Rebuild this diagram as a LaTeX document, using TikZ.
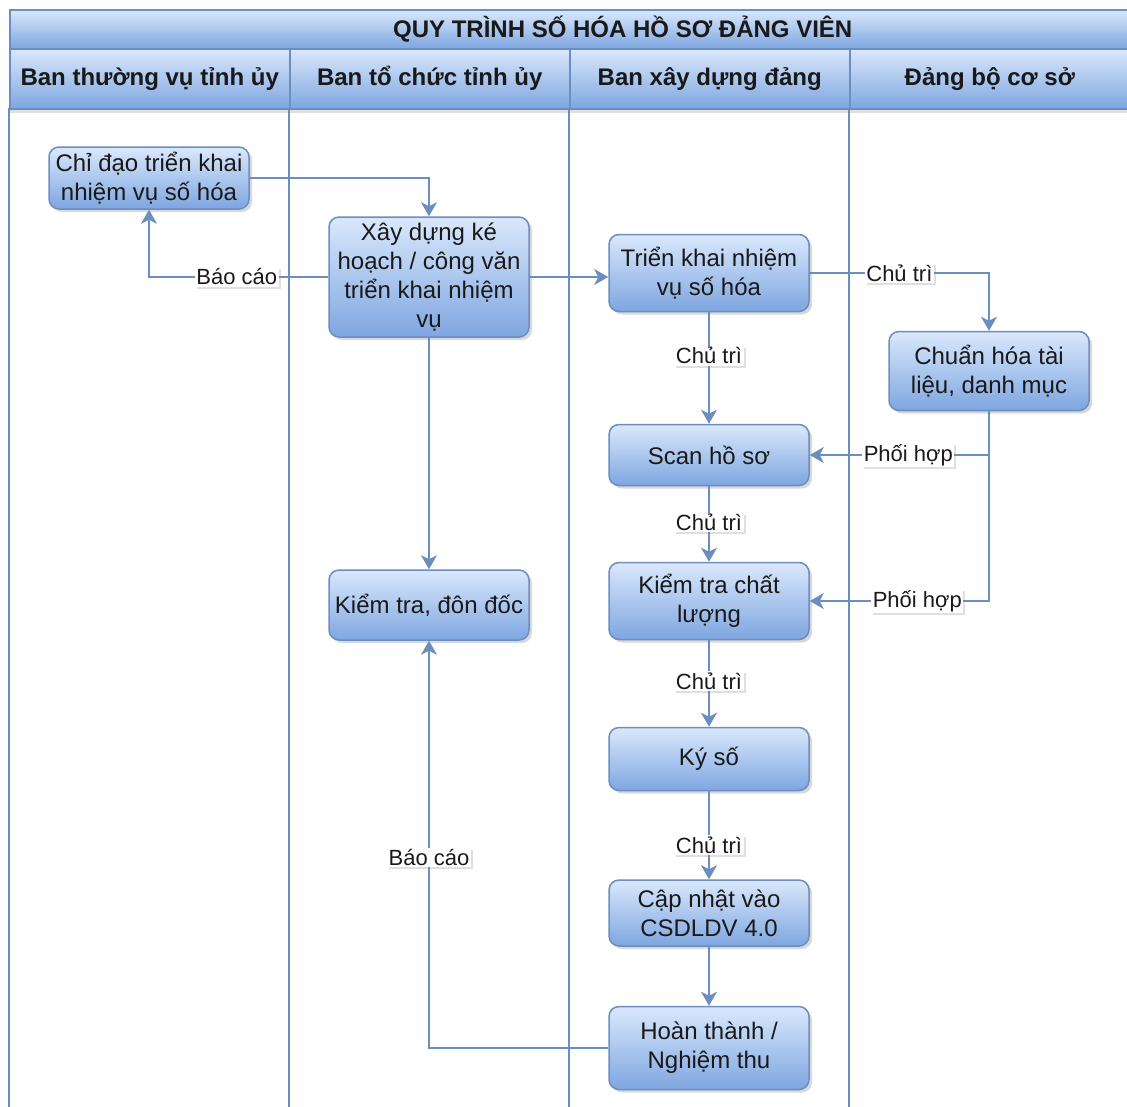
\documentclass[tikz,border=0pt]{standalone}
\usepackage{fontspec}
\setmainfont{Liberation Sans}
\usetikzlibrary{arrows.meta,shadows}
\definecolor{vien}{HTML}{6C8EBF}
\definecolor{nentren}{HTML}{DAE8FC}
\definecolor{nenduoi}{HTML}{7EA6E0}
\begin{document}
\begin{tikzpicture}[x=1pt,y=-1pt]
	\tikzstyle{every node}=[font=\fontsize{24}{29}\selectfont,text=black!90]
	\tikzstyle{buoc}=[draw=vien,line width=1.5pt,rounded corners=10pt,top color=nentren,bottom color=nenduoi,minimum width=200pt,align=center,inner sep=2pt,drop shadow={opacity=.3,shadow xshift=3pt,shadow yshift=-3pt}]
	\tikzstyle{tieude}=[draw=vien,line width=1.5pt,top color=nentren,bottom color=nenduoi,anchor=north west,font=\bfseries\fontsize{24}{29}\selectfont,drop shadow={opacity=.25,shadow xshift=0pt,shadow yshift=-4pt}]
	\tikzstyle{nhan}=[fill=white,inner sep=1.5pt,font=\fontsize{22}{26}\selectfont,drop shadow={opacity=.25,shadow xshift=2pt,shadow yshift=-2pt}]
	\tikzstyle{noi}=[draw=vien,line width=2pt,-{Stealth[length=14pt,width=16pt,inset=4pt]}]
	\useasboundingbox (0,0) rectangle (1127,1106);
	% be boi
	\draw[vien,line width=1.5pt](9,108)--(9,1120);
	\draw[vien,line width=1.5pt](289,108)--(289,1120);
	\draw[vien,line width=1.5pt](569,108)--(569,1120);
	\draw[vien,line width=1.5pt](849,108)--(849,1120);
	\draw[vien,line width=1.5pt](1129,108)--(1129,1120);
	\node[tieude,minimum width=1226pt,minimum height=39pt] (ten) at (9,9) {QUY TRÌNH SỐ HÓA HỒ SƠ ĐẢNG VIÊN};
	\node[tieude,minimum width=280pt,minimum height=60pt] (lan1) at (9,48) {Ban thường vụ tỉnh ủy};
	\node[tieude,minimum width=280pt,minimum height=60pt] (lan2) at (289,48) {Ban tổ chức tỉnh ủy};
	\node[tieude,minimum width=280pt,minimum height=60pt] (lan3) at (569,48) {Ban xây dựng đảng};
	\node[tieude,minimum width=280pt,minimum height=60pt] (lan4) at (849,48) {Đảng bộ cơ sở};
	% cac buoc
	\node[buoc,minimum height=62pt] (chidao) at (149,178) {Chỉ đạo triển khai\\nhiệm vụ số hóa};
	\node[buoc,minimum height=120pt] (kehoach) at (429,277) {Xây dựng ké\\hoạch / công văn\\triển khai nhiệm\\vụ};
	\node[buoc,minimum height=77pt] (trienkhai) at (709,273) {Triển khai nhiệm\\vụ số hóa};
	\node[buoc,minimum height=79pt] (chuanhoa) at (989,371) {Chuẩn hóa tài\\liệu, danh mục};
	\node[buoc,minimum height=61pt] (scan) at (709,455) {Scan hồ sơ};
	\node[buoc,minimum height=77pt] (kiemtra) at (709,601) {Kiểm tra chất\\lượng};
	\node[buoc,minimum height=70pt] (dondoc) at (429,605) {Kiểm tra, đôn đốc};
	\node[buoc,minimum height=63pt] (kyso) at (709,759) {Ký số};
	\node[buoc,minimum height=66pt] (capnhat) at (709,913) {Cập nhật vào\\CSDLDV 4.0};
	\node[buoc,minimum height=83pt] (hoanthanh) at (709,1048) {Hoàn thành /\\Nghiệm thu};
	% mui ten
	\draw[noi](chidao.east)-|(kehoach.north);
	\draw[noi](kehoach.west)-|node[nhan,pos=.255](bc1){Báo cáo}(chidao.south);
	\draw[noi](kehoach.east)--(kehoach.east-|trienkhai.west);
	\draw[noi](kehoach)--(dondoc);
	\draw[noi](trienkhai.east)-|node[nhan,pos=.25](ct1){Chủ trì}(chuanhoa.north);
	\draw[noi](trienkhai)--node[nhan,pos=.39](ct2){Chủ trì}(scan);
	\draw[noi](chuanhoa.south)|-node[nhan,pos=.725](ph1){Phối hợp}(scan.east);
	\draw[noi](chuanhoa.south)|-node[nhan,pos=.7](ph2){Phối hợp}(kiemtra.east);
	\draw[noi](scan)--node[nhan,pos=.48](ct3){Chủ trì}(kiemtra);
	\draw[noi](kiemtra)--node[nhan,pos=.47](ct4){Chủ trì}(kyso);
	\draw[noi](kyso)--node[nhan,pos=.61](ct5){Chủ trì}(capnhat);
	\draw[noi](capnhat)--(hoanthanh);
	\draw[noi](hoanthanh.west)-|node[nhan,pos=.734](bc2){Báo cáo}(dondoc.south);
\end{tikzpicture}
\end{document}
